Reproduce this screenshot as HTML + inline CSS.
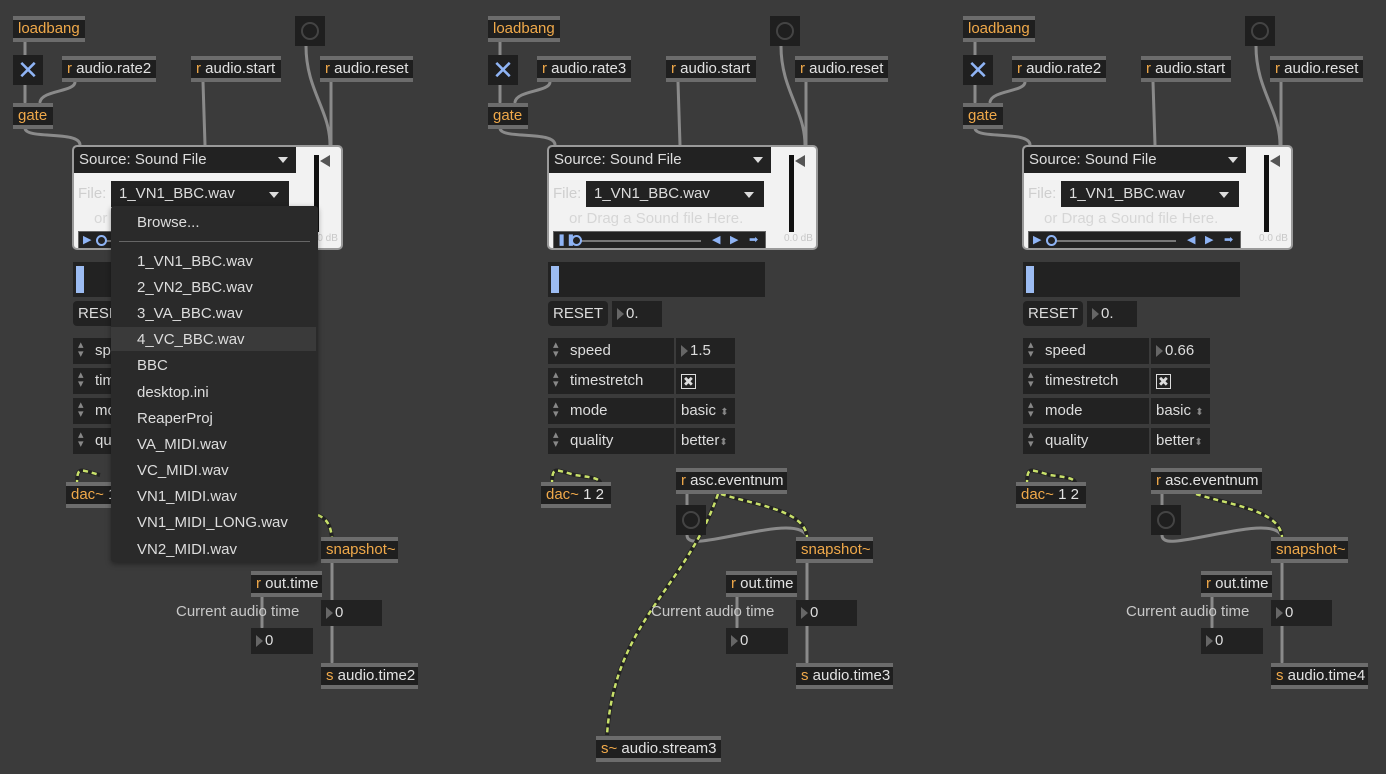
<!DOCTYPE html>
<html><head><meta charset="utf-8"><style>
*{box-sizing:border-box}
body{margin:0;width:1386px;height:774px;background:#3b3b3b;overflow:hidden;position:relative;font-family:"Liberation Sans",sans-serif}
.col{position:absolute;top:0;width:440px;height:774px}
.o{position:absolute;height:26px;background:#1f1f1f;border-top:4px solid #6c6c6c;border-bottom:4px solid #6c6c6c;color:#e2e2e2;font-size:15px;line-height:18px;padding-left:5px;white-space:nowrap}
.or{color:#f0a94a}
.btn{position:absolute;width:30px;height:30px;background:#1f1f1f}
.btn:after{content:"";position:absolute;left:6px;top:6px;width:14px;height:14px;border:2px solid #444;border-radius:50%}
.tog{position:absolute;width:30px;height:30px;background:#1f1f1f;color:#8fb4f5;font-size:26px;line-height:30px;text-align:center}
.panel{position:absolute;left:72px;top:145px;width:271px;height:105px;background:#f2f2f2;border:2px solid #9a9a9a;border-radius:5px;overflow:hidden}
.hdr{position:absolute;left:0;top:0;width:222px;height:26px;background:#222;color:#ddd;font-size:15px;line-height:26px;padding-left:5px;white-space:nowrap}
.tri{position:absolute;width:0;height:0;border-left:5px solid transparent;border-right:5px solid transparent;border-top:6px solid #ddd}
.file{position:absolute;left:37px;top:34px;width:178px;height:26px;background:#222;color:#ddd;font-size:15px;line-height:26px;padding-left:8px;white-space:nowrap}
.dk{position:absolute;background:#222}
.t{position:absolute;font-size:15px;color:#ddd;white-space:nowrap}
.num{position:absolute;height:26px;background:#222;color:#ddd;font-size:15px;line-height:26px;padding-left:14px;white-space:nowrap}
.num:before{content:"";position:absolute;left:5px;top:7px;border-top:6px solid transparent;border-bottom:6px solid transparent;border-left:7px solid #666}
.row{position:absolute;left:73px;width:187px;height:26px}
.row .l{position:absolute;left:0;top:0;width:126px;height:26px;background:#222;color:#ddd;font-size:15px;line-height:26px;padding-left:22px;white-space:nowrap}
.row .l:before{content:"▴\A▾";white-space:pre;position:absolute;left:5px;top:3px;line-height:9px;font-size:11px;color:#888}
.row .v{position:absolute;left:128px;top:0;width:59px;height:26px;background:#222;color:#ddd;font-size:15px;line-height:26px;padding-left:5px;white-space:nowrap}
svg{position:absolute;left:0;top:0}
.menu{position:absolute;left:111px;top:206px;width:207px;height:356px;background:#2a2a2a;border-radius:3px;box-shadow:0 2px 6px rgba(0,0,0,.4)}
.menu div{position:absolute;left:26px;font-size:15px;color:#ddd;white-space:nowrap}
.tr{position:absolute;left:4px;top:84px;width:213px;height:19px;background:#222;border:1px solid #666;overflow:hidden}
.tr span{position:absolute;color:#8fb4f5;font-size:11px;line-height:17px;top:0}
.tr .ln{position:absolute;left:27px;top:8px;width:120px;height:2px;background:#777}
.tr .c{position:absolute;left:17px;top:3px;width:11px;height:11px;border:2px solid #8fb4f5;border-radius:50%}
.mtr{position:absolute;left:240px;top:8px;width:5px;height:77px;background:#111}
.mtri{position:absolute;left:246px;top:8px;border-top:6px solid transparent;border-bottom:6px solid transparent;border-right:10px solid #555}
</style></head><body>

<div class="col" style="left:0">
<svg width="440" height="774">
<g fill="none" stroke="#8a8a8a" stroke-width="3" stroke-linecap="round">
<path d="M25 42 V102"/><path d="M40 102 C42 90 75 92 75 82"/><path d="M25 128 C25 140 80 130 80 145"/>
<path d="M203 82 L205 145"/><path d="M306 46 C306 90 330 110 330 145"/><path d="M331 82 V145"/>
<path d="M332 562 V662"/><path d="M262 596 V627"/>
</g>
<path d="M77 485 C77 465 80 470 100 475" stroke="#222" stroke-width="4" fill="none"/>
<path d="M77 485 C77 465 80 470 100 475" stroke="#c8e06a" stroke-width="2.5" stroke-dasharray="5 4" fill="none"/>
<path d="M318 515 C328 520 330 525 332 537" stroke="#222" stroke-width="4" fill="none"/>
<path d="M318 515 C328 520 330 525 332 537" stroke="#c8e06a" stroke-width="2.5" stroke-dasharray="5 4" fill="none"/>
</svg>
<div class="o or" style="left:13px;top:16px;width:72px">loadbang</div>
<div class="btn" style="left:295px;top:16px"></div>
<div class="tog" style="left:13px;top:55px">✕</div>
<div class="o" style="left:62px;top:56px;width:94px"><span class="or">r</span> audio.rate2</div>
<div class="o" style="left:191px;top:56px;width:90px"><span class="or">r</span> audio.start</div>
<div class="o" style="left:320px;top:56px;width:93px"><span class="or">r</span> audio.reset</div>
<div class="o or" style="left:13px;top:103px;width:40px">gate</div>
<div class="panel"><div class="hdr">Source: Sound File<div class="tri" style="left:204px;top:10px"></div></div>
<div class="mtr"></div><div class="mtri"></div>
<div class="t" style="left:235px;top:86px;font-size:10px;color:#c8c8c8">0.0 dB</div>
<div class="t" style="left:4px;top:38px;color:#cfcfcf">File:</div>
<div class="file">1_VN1_BBC.wav<div class="tri" style="left:158px;top:11px"></div></div>
<div class="t" style="left:20px;top:63px;color:#d6d6d6">or Drag a Sound file Here.</div>
<div class="tr"><span style="left:4px">▶</span><div class="ln"></div><div class="c"></div><span style="left:158px">◀</span><span style="left:176px">▶</span><span style="left:195px">➡</span></div>
</div>
<div class="dk" style="left:73px;top:262px;width:217px;height:35px"><div style="position:absolute;left:3px;top:4px;width:8px;height:27px;background:#9cbcf2"></div></div>
<div class="dk" style="left:73px;top:301px;width:60px;height:25px;border-radius:4px;color:#ddd;font-size:15px;line-height:25px;padding-left:5px">RESET</div>
<div class="num" style="left:137px;top:301px;width:50px">0.</div>
<div class="row" style="top:338px"><div class="l">speed</div><div class="v"></div></div>
<div class="row" style="top:368px"><div class="l">timestretch</div><div class="v"></div></div>
<div class="row" style="top:398px"><div class="l">mode</div><div class="v"></div></div>
<div class="row" style="top:428px"><div class="l">quality</div><div class="v"></div></div>
<div class="o" style="left:66px;top:482px;width:70px"><span class="or">dac~</span> 1 2</div>
<div class="o or" style="left:321px;top:537px;width:77px">snapshot~</div>
<div class="o" style="left:251px;top:571px;width:71px"><span class="or">r</span> out.time</div>
<div class="t" style="left:176px;top:603px;color:#c8c8c8">Current audio time</div>
<div class="num" style="left:321px;top:600px;width:61px">0</div>
<div class="num" style="left:251px;top:628px;width:62px">0</div>
<div class="o" style="left:321px;top:663px;width:97px"><span class="or">s</span> audio.time2</div>
<div class="menu">
<div style="top:8px">Browse...</div>
<div style="left:8px;top:35px;width:191px;height:1px;background:#666"></div>
<div style="top:47px">1_VN1_BBC.wav</div>
<div style="top:73px">2_VN2_BBC.wav</div>
<div style="top:99px">3_VA_BBC.wav</div>
<div style="left:0;top:121px;width:205px;height:24px;background:#3a3a3a"></div>
<div style="top:125px">4_VC_BBC.wav</div>
<div style="top:151px">BBC</div>
<div style="top:178px">desktop.ini</div>
<div style="top:204px">ReaperProj</div>
<div style="top:230px">VA_MIDI.wav</div>
<div style="top:256px">VC_MIDI.wav</div>
<div style="top:282px">VN1_MIDI.wav</div>
<div style="top:308px">VN1_MIDI_LONG.wav</div>
<div style="top:335px">VN2_MIDI.wav</div>
</div>
</div>

<div class="col" style="left:475px">
<svg width="440" height="774">
<g fill="none" stroke="#8a8a8a" stroke-width="3" stroke-linecap="round">
<path d="M25 42 V102"/><path d="M40 102 C42 90 75 92 75 82"/><path d="M25 128 C25 140 80 130 80 145"/>
<path d="M203 82 L205 145"/><path d="M306 46 C306 90 330 110 330 145"/><path d="M331 82 V145"/>
<path d="M332 562 V662"/><path d="M262 596 V627"/>
<path d="M212 494 V505"/><path d="M212 535 C212 548 240 538 290 530 C320 525 330 530 332 537"/>
</g>
<g fill="none">
<path d="M77 485 C77 465 80 470 100 475 C120 478 125 478 126 485" stroke="#222" stroke-width="4"/>
<path d="M77 485 C77 465 80 470 100 475 C120 478 125 478 126 485" stroke="#c8e06a" stroke-width="2.5" stroke-dasharray="5 4"/>
<path d="M246 494 C280 505 330 510 332 537" stroke="#222" stroke-width="4"/>
<path d="M246 494 C280 505 330 510 332 537" stroke="#c8e06a" stroke-width="2.5" stroke-dasharray="5 4"/>
<path d="M243 494 C210 590 140 620 132 735" stroke="#222" stroke-width="4"/>
<path d="M243 494 C210 590 140 620 132 735" stroke="#c8e06a" stroke-width="2.5" stroke-dasharray="5 4"/>
</g>
</svg>
<div class="o or" style="left:13px;top:16px;width:72px">loadbang</div>
<div class="btn" style="left:295px;top:16px"></div>
<div class="tog" style="left:13px;top:55px">✕</div>
<div class="o" style="left:62px;top:56px;width:94px"><span class="or">r</span> audio.rate3</div>
<div class="o" style="left:191px;top:56px;width:90px"><span class="or">r</span> audio.start</div>
<div class="o" style="left:320px;top:56px;width:93px"><span class="or">r</span> audio.reset</div>
<div class="o or" style="left:13px;top:103px;width:40px">gate</div>
<div class="panel"><div class="hdr">Source: Sound File<div class="tri" style="left:204px;top:10px"></div></div>
<div class="mtr"></div><div class="mtri"></div>
<div class="t" style="left:235px;top:86px;font-size:10px;color:#c8c8c8">0.0 dB</div>
<div class="t" style="left:4px;top:38px;color:#cfcfcf">File:</div>
<div class="file">1_VN1_BBC.wav<div class="tri" style="left:158px;top:11px"></div></div>
<div class="t" style="left:20px;top:63px;color:#d6d6d6">or Drag a Sound file Here.</div>
<div class="tr"><span style="left:3px;font-weight:bold">❚❚</span><div class="ln"></div><div class="c"></div><span style="left:158px">◀</span><span style="left:176px">▶</span><span style="left:195px">➡</span></div>
</div>
<div class="dk" style="left:73px;top:262px;width:217px;height:35px"><div style="position:absolute;left:3px;top:4px;width:8px;height:27px;background:#9cbcf2"></div></div>
<div class="dk" style="left:73px;top:301px;width:60px;height:25px;border-radius:4px;color:#ddd;font-size:15px;line-height:25px;padding-left:5px">RESET</div>
<div class="num" style="left:137px;top:301px;width:50px">0.</div>
<div class="row" style="top:338px"><div class="l">speed</div><div class="v" style="padding-left:0"><span class="num" style="position:relative;display:inline-block;background:none">1.5</span></div></div>
<div class="row" style="top:368px"><div class="l">timestretch</div><div class="v"><span style="display:inline-block;width:15px;height:15px;border:1px solid #ddd;font-size:13px;line-height:13px;text-align:center;vertical-align:middle">✖</span></div></div>
<div class="row" style="top:398px"><div class="l">mode</div><div class="v">basic <span style="color:#888;font-size:10px">⬍</span></div></div>
<div class="row" style="top:428px"><div class="l">quality</div><div class="v">better<span style="color:#888;font-size:10px">⬍</span></div></div>
<div class="o" style="left:66px;top:482px;width:70px"><span class="or">dac~</span> 1 2</div>
<div class="o" style="left:201px;top:468px;width:111px"><span class="or">r</span> asc.eventnum</div>
<div class="btn" style="left:201px;top:505px"></div>
<div class="o or" style="left:321px;top:537px;width:77px">snapshot~</div>
<div class="o" style="left:251px;top:571px;width:71px"><span class="or">r</span> out.time</div>
<div class="t" style="left:176px;top:603px;color:#c8c8c8">Current audio time</div>
<div class="num" style="left:321px;top:600px;width:61px">0</div>
<div class="num" style="left:251px;top:628px;width:62px">0</div>
<div class="o" style="left:321px;top:663px;width:97px"><span class="or">s</span> audio.time3</div>
<div class="o" style="left:121px;top:736px;width:125px"><span class="or">s~</span> audio.stream3</div>
</div>

<div class="col" style="left:950px">
<svg width="440" height="774">
<g fill="none" stroke="#8a8a8a" stroke-width="3" stroke-linecap="round">
<path d="M25 42 V102"/><path d="M40 102 C42 90 75 92 75 82"/><path d="M25 128 C25 140 80 130 80 145"/>
<path d="M203 82 L205 145"/><path d="M306 46 C306 90 330 110 330 145"/><path d="M331 82 V145"/>
<path d="M332 562 V662"/><path d="M262 596 V627"/>
<path d="M212 494 V505"/><path d="M212 535 C212 548 240 538 290 530 C320 525 330 530 332 537"/>
</g>
<g fill="none">
<path d="M77 485 C77 465 80 470 100 475 C120 478 125 478 126 485" stroke="#222" stroke-width="4"/>
<path d="M77 485 C77 465 80 470 100 475 C120 478 125 478 126 485" stroke="#c8e06a" stroke-width="2.5" stroke-dasharray="5 4"/>
<path d="M246 494 C280 505 330 510 332 537" stroke="#222" stroke-width="4"/>
<path d="M246 494 C280 505 330 510 332 537" stroke="#c8e06a" stroke-width="2.5" stroke-dasharray="5 4"/>
</g>
</svg>
<div class="o or" style="left:13px;top:16px;width:72px">loadbang</div>
<div class="btn" style="left:295px;top:16px"></div>
<div class="tog" style="left:13px;top:55px">✕</div>
<div class="o" style="left:62px;top:56px;width:94px"><span class="or">r</span> audio.rate2</div>
<div class="o" style="left:191px;top:56px;width:90px"><span class="or">r</span> audio.start</div>
<div class="o" style="left:320px;top:56px;width:93px"><span class="or">r</span> audio.reset</div>
<div class="o or" style="left:13px;top:103px;width:40px">gate</div>
<div class="panel"><div class="hdr">Source: Sound File<div class="tri" style="left:204px;top:10px"></div></div>
<div class="mtr"></div><div class="mtri"></div>
<div class="t" style="left:235px;top:86px;font-size:10px;color:#c8c8c8">0.0 dB</div>
<div class="t" style="left:4px;top:38px;color:#cfcfcf">File:</div>
<div class="file">1_VN1_BBC.wav<div class="tri" style="left:158px;top:11px"></div></div>
<div class="t" style="left:20px;top:63px;color:#d6d6d6">or Drag a Sound file Here.</div>
<div class="tr"><span style="left:4px">▶</span><div class="ln"></div><div class="c"></div><span style="left:158px">◀</span><span style="left:176px">▶</span><span style="left:195px">➡</span></div>
</div>
<div class="dk" style="left:73px;top:262px;width:217px;height:35px"><div style="position:absolute;left:3px;top:4px;width:8px;height:27px;background:#9cbcf2"></div></div>
<div class="dk" style="left:73px;top:301px;width:60px;height:25px;border-radius:4px;color:#ddd;font-size:15px;line-height:25px;padding-left:5px">RESET</div>
<div class="num" style="left:137px;top:301px;width:50px">0.</div>
<div class="row" style="top:338px"><div class="l">speed</div><div class="v" style="padding-left:0"><span class="num" style="position:relative;display:inline-block;background:none">0.66</span></div></div>
<div class="row" style="top:368px"><div class="l">timestretch</div><div class="v"><span style="display:inline-block;width:15px;height:15px;border:1px solid #ddd;font-size:13px;line-height:13px;text-align:center;vertical-align:middle">✖</span></div></div>
<div class="row" style="top:398px"><div class="l">mode</div><div class="v">basic <span style="color:#888;font-size:10px">⬍</span></div></div>
<div class="row" style="top:428px"><div class="l">quality</div><div class="v">better<span style="color:#888;font-size:10px">⬍</span></div></div>
<div class="o" style="left:66px;top:482px;width:70px"><span class="or">dac~</span> 1 2</div>
<div class="o" style="left:201px;top:468px;width:111px"><span class="or">r</span> asc.eventnum</div>
<div class="btn" style="left:201px;top:505px"></div>
<div class="o or" style="left:321px;top:537px;width:77px">snapshot~</div>
<div class="o" style="left:251px;top:571px;width:71px"><span class="or">r</span> out.time</div>
<div class="t" style="left:176px;top:603px;color:#c8c8c8">Current audio time</div>
<div class="num" style="left:321px;top:600px;width:61px">0</div>
<div class="num" style="left:251px;top:628px;width:62px">0</div>
<div class="o" style="left:321px;top:663px;width:97px"><span class="or">s</span> audio.time4</div>
</div>
</body></html>
